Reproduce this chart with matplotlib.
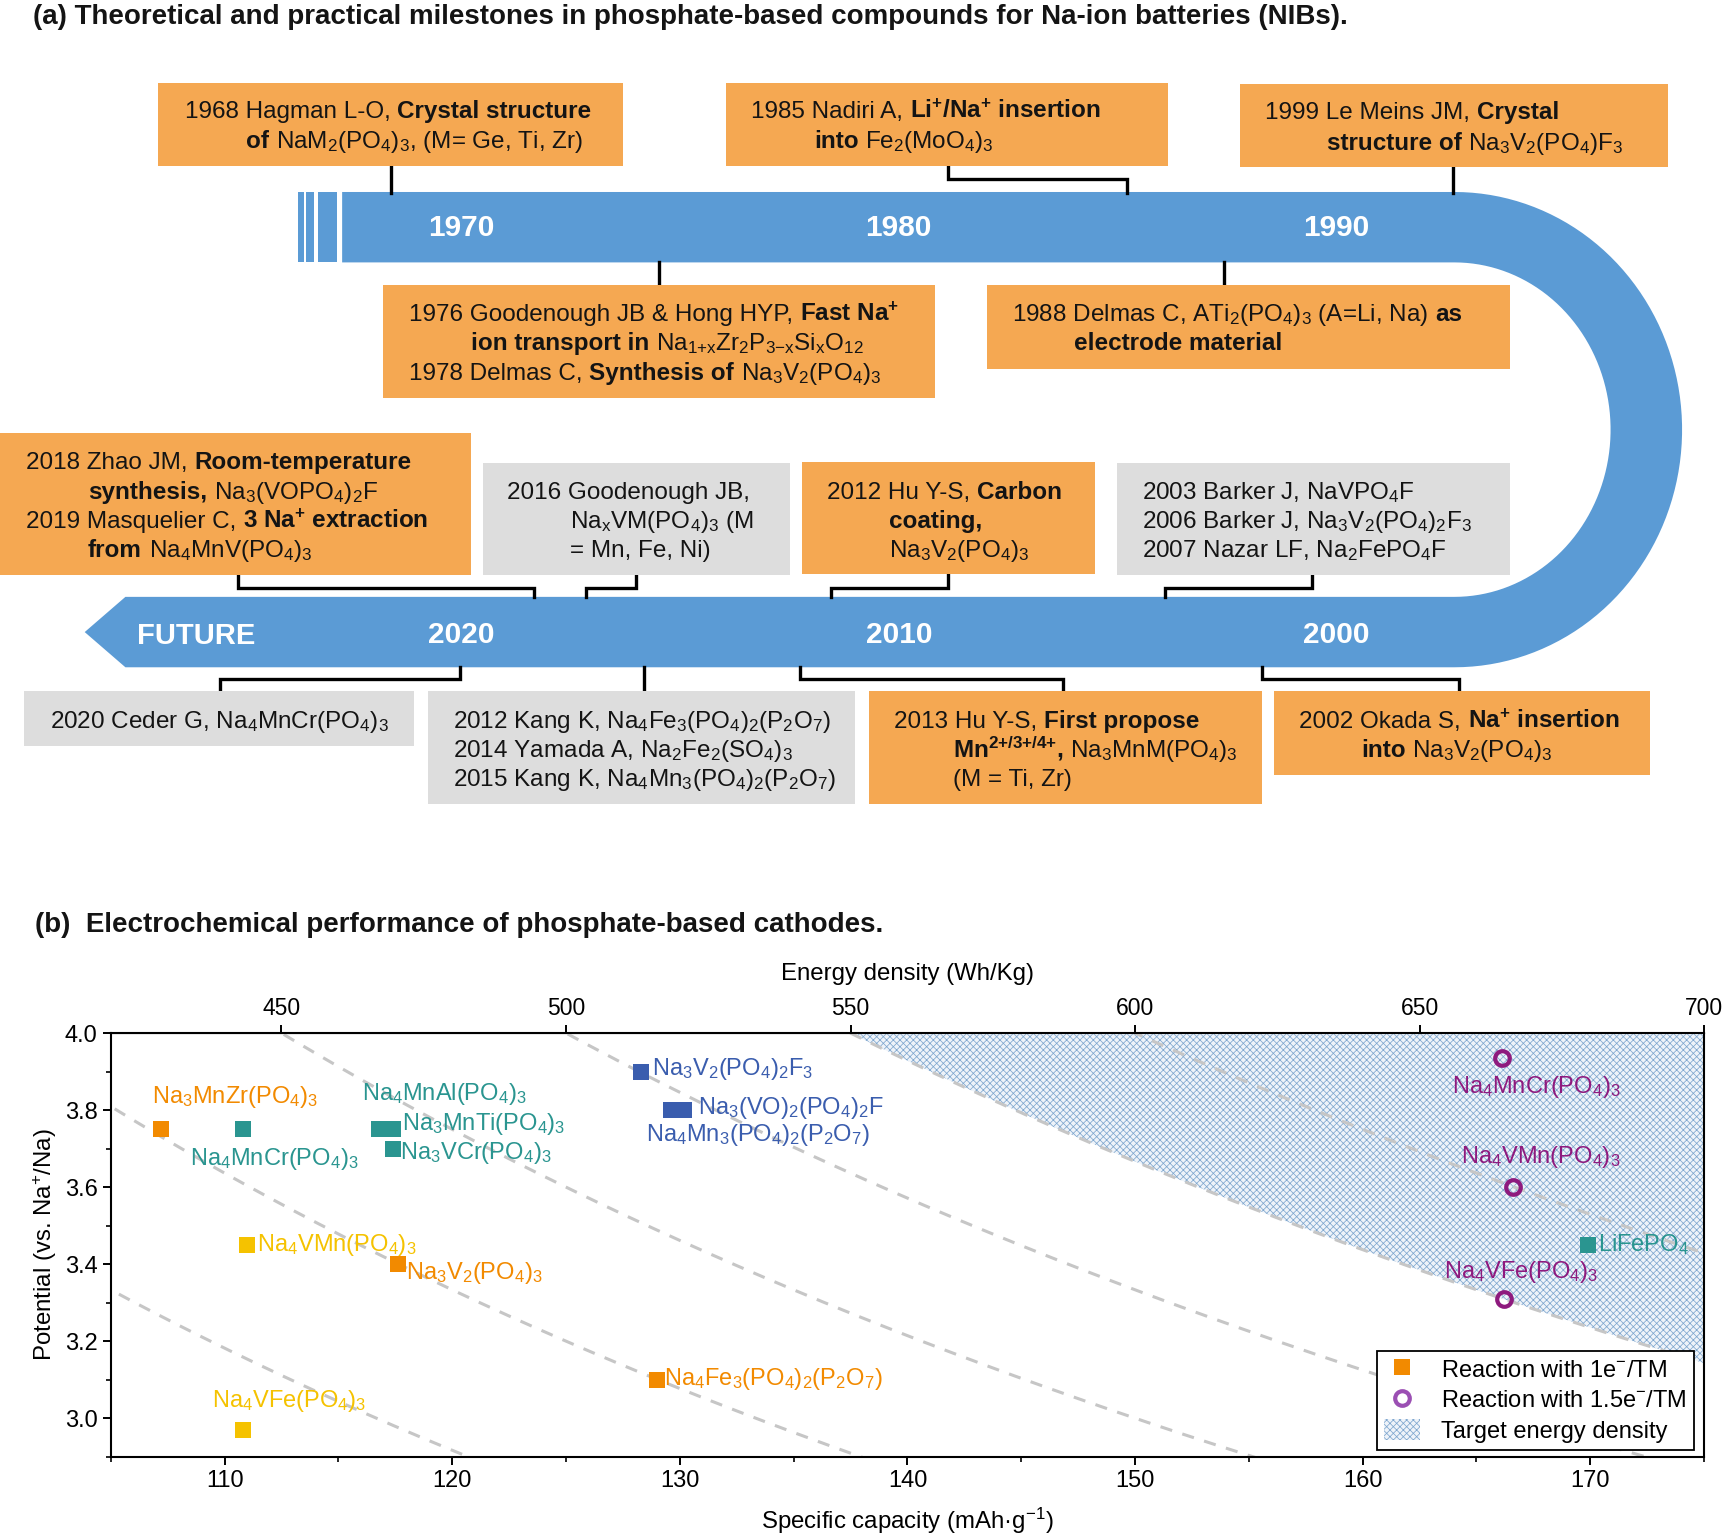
import numpy as np
import matplotlib
matplotlib.use('Agg')
import matplotlib.pyplot as plt
from matplotlib.patches import Rectangle, PathPatch, Patch
from matplotlib.path import Path
from matplotlib.lines import Line2D

plt.rcParams['font.family'] = ['Liberation Sans', 'DejaVu Sans']
plt.rcParams['mathtext.default'] = 'regular'
plt.rcParams['hatch.linewidth'] = 0.55

# ---------------------------------------------------------------- data (a)
title_a = "(a) Theoretical and practical milestones in phosphate-based compounds for Na-ion batteries (NIBs)."
top_years = [1970, 1980, 1990]
bottom_years = [2020, 2010, 2000]
future_label = "FUTURE"

box_kinds = ['orange', 'orange', 'orange', 'orange', 'orange', 'orange', 'gray',
             'orange', 'gray', 'gray', 'gray', 'orange', 'orange']
box_texts = [
    [[("1968 Hagman L-O,", 0), (" Crystal structure", 1)],
     [("of", 1), (" NaM$_2$(PO$_4$)$_3$, (M= Ge, Ti, Zr)", 0)]],
    [[("1985 Nadiri A,", 0), (" Li$^{+}$/Na$^{+}$ insertion", 1)],
     [("into", 1), (" Fe$_2$(MoO$_4$)$_3$", 0)]],
    [[("1999 Le Meins JM,", 0), (" Crystal", 1)],
     [("structure of", 1), (" Na$_3$V$_2$(PO$_4$)F$_3$", 0)]],
    [[("1976 Goodenough JB & Hong HYP,", 0), (" Fast Na$^{+}$", 1)],
     [("ion transport in", 1), (" Na$_{1{+}x}$Zr$_2$P$_{3{-}x}$Si$_x$O$_{12}$", 0)],
     [("1978 Delmas C,", 0), (" Synthesis of", 1), (" Na$_3$V$_2$(PO$_4$)$_3$", 0)]],
    [[("1988 Delmas C, ATi$_2$(PO$_4$)$_3$ (A=Li, Na)", 0), (" as", 1)],
     [("electrode material", 1)]],
    [[("2018 Zhao JM,", 0), (" Room-temperature", 1)],
     [("synthesis,", 1), (" Na$_3$(VOPO$_4$)$_2$F", 0)],
     [("2019 Masquelier C,", 0), (" 3 Na$^{+}$ extraction", 1)],
     [("from", 1), (" Na$_4$MnV(PO$_4$)$_3$", 0)]],
    [[("2016 Goodenough JB,", 0)],
     [("Na$_x$VM(PO$_4$)$_3$ (M", 0)],
     [("= Mn, Fe, Ni)", 0)]],
    [[("2012 Hu Y-S,", 0), (" Carbon", 1)],
     [("coating,", 1)],
     [("Na$_3$V$_2$(PO$_4$)$_3$", 0)]],
    [[("2003 Barker J, NaVPO$_4$F", 0)],
     [("2006 Barker J, Na$_3$V$_2$(PO$_4$)$_2$F$_3$", 0)],
     [("2007 Nazar LF, Na$_2$FePO$_4$F", 0)]],
    [[("2020 Ceder G, Na$_4$MnCr(PO$_4$)$_3$", 0)]],
    [[("2012 Kang K, Na$_4$Fe$_3$(PO$_4$)$_2$(P$_2$O$_7$)", 0)],
     [("2014 Yamada A, Na$_2$Fe$_2$(SO$_4$)$_3$", 0)],
     [("2015 Kang K, Na$_4$Mn$_3$(PO$_4$)$_2$(P$_2$O$_7$)", 0)]],
    [[("2013 Hu Y-S,", 0), (" First propose", 1)],
     [("Mn$^{2{+}/3{+}/4{+}}$,", 1), (" Na$_3$MnM(PO$_4$)$_3$", 0)],
     [("(M = Ti, Zr)", 0)]],
    [[("2002 Okada S,", 0), (" Na$^{+}$ insertion", 1)],
     [("into", 1), (" Na$_3$V$_2$(PO$_4$)$_3$", 0)]],
]

# ---------------------------------------------------------------- data (b)
title_b = "(b)  Electrochemical performance of phosphate-based cathodes."
cathodes = ["Na$_3$MnZr(PO$_4$)$_3$", "Na$_4$MnCr(PO$_4$)$_3$", "Na$_4$MnAl(PO$_4$)$_3$",
            "Na$_3$MnTi(PO$_4$)$_3$", "Na$_3$VCr(PO$_4$)$_3$", "Na$_3$V$_2$(PO$_4$)$_2$F$_3$",
            "Na$_3$(VO)$_2$(PO$_4$)$_2$F", "Na$_4$Mn$_3$(PO$_4$)$_2$(P$_2$O$_7$)",
            "Na$_4$VMn(PO$_4$)$_3$", "Na$_3$V$_2$(PO$_4$)$_3$", "Na$_4$Fe$_3$(PO$_4$)$_2$(P$_2$O$_7$)",
            "Na$_4$VFe(PO$_4$)$_3$", "LiFePO$_4$", "Na$_4$MnCr(PO$_4$)$_3$",
            "Na$_4$VMn(PO$_4$)$_3$", "Na$_4$VFe(PO$_4$)$_3$"]
capacity = [107.2, 110.8, 116.8, 117.4, 117.4, 128.3, 129.6, 130.2,
            111.0, 117.6, 129.0, 110.8, 169.9, 166.1, 166.6, 166.2]
potential = [3.75, 3.75, 3.75, 3.75, 3.70, 3.90, 3.80, 3.80,
             3.45, 3.40, 3.10, 2.97, 3.45, 3.935, 3.60, 3.31]
family = ['orange', 'teal', 'teal', 'teal', 'teal', 'blue', 'blue', 'blue',
          'yellow', 'orange', 'orange', 'yellow', 'teal', 'purple', 'purple', 'purple']
iso_energy = [350, 400, 450, 500, 550, 600]   # Wh/kg guide lines
target_energy = 550
legend_labels = ["Reaction with 1e$^{-}$/TM", "Reaction with 1.5e$^{-}$/TM", "Target energy density"]

# ---------------------------------------------------------------- styles
ORANGE_BOX = '#F5A852'
GRAY_BOX = '#DDDDDD'
BAND = '#5B9BD5'
TXT = '#141414'
HATCH_FACE = '#eef3f9'
HATCH_EDGE = '#7fa7cf'
fam_color = {'orange': '#F28A00', 'teal': '#2A9590', 'blue': '#3A5DAE',
             'yellow': '#F5C200', 'purple': '#8E1A7E'}

# ---------------------------------------------------------------- figure
W, H = 1568.0, 1397.0          # layout units (reference pixel grid)
fig = plt.figure(figsize=(17.25, 15.37), dpi=100)
ax0 = fig.add_axes([0, 0, 1, 1])
ax0.set_xlim(0, W)
ax0.set_ylim(H, 0)
ax0.axis('off')
renderer = fig.canvas.get_renderer()
ppu = fig.bbox.width / W

BOX_FS = 17.5


def twidth(t):
    return t.get_window_extent(renderer).width / ppu


def space_width(size, weight):
    a = ax0.text(0, 0, 'a a', fontsize=size, fontweight=weight)
    b = ax0.text(0, 0, 'aa', fontsize=size, fontweight=weight)
    w = twidth(a) - twidth(b)
    a.remove(); b.remove()
    return w


SW = {0: space_width(BOX_FS, 'normal'), 1: space_width(BOX_FS, 'bold')}


def rich_line(x, y, segs, size=BOX_FS):
    cur = x
    for s, bold in segs:
        if s.startswith(' '):
            cur += SW[bold]
            s = s.lstrip()
        t = ax0.text(cur, y, s, fontsize=size, fontweight='bold' if bold else 'normal',
                     ha='left', va='baseline', color=TXT, zorder=5)
        cur += twidth(t)


# title (a)
ax0.text(30, 22, title_a, fontsize=20, fontweight='bold', ha='left', va='baseline', color=TXT)

# ---- timeline band
y_top0, y_top1 = 174.5, 238.5
y_bot0, y_bot1 = 542.5, 606.5
xc, yc = 1322.0, 390.5
rxo, ryo = 207.0, 216.0
rxi, ryi = 142.0, 152.0
t = np.linspace(0, np.pi, 80)
verts = [(311, y_top0), (xc, y_top0)]
verts += list(zip(xc + rxo * np.sin(t), yc - ryo * np.cos(t)))
verts += [(114, y_bot1), (77, 574.5), (114, y_bot0), (xc, y_bot0)]
verts += list(zip(xc + rxi * np.sin(t), yc + ryi * np.cos(t)))
verts += [(311, y_top1), (311, y_top0)]
codes = [Path.MOVETO] + [Path.LINETO] * (len(verts) - 2) + [Path.CLOSEPOLY]
ax0.add_patch(PathPatch(Path(verts, codes), facecolor=BAND, edgecolor='none', zorder=1))
for x0, w in [(271, 5), (278, 7.5), (289, 17)]:
    ax0.add_patch(Rectangle((x0, y_top0), w, y_top1 - y_top0, facecolor=BAND, edgecolor='none', zorder=1))


def top_x(yr):
    return 419 + (yr - 1970) * 39.8


def bot_x(yr):
    return 1215 - (yr - 2000) * 39.8


for yr in top_years:
    ax0.text(top_x(yr), 207, str(yr), fontsize=21.5, fontweight='bold', color='white',
             ha='center', va='center', zorder=3)
for yr in bottom_years:
    ax0.text(bot_x(yr), 577, str(yr), fontsize=21.5, fontweight='bold', color='white',
             ha='center', va='center', zorder=3)
ax0.text(178, 578, future_label, fontsize=21, fontweight='bold', color='white',
         ha='center', va='center', zorder=3)

# ---- boxes layout: rect, line x, line y centres, connector polyline
box_layout = [
    ((144, 75, 566, 151), [168, 224], [100, 127], [(355, 151), (355, 175)]),
    ((660, 75, 1062, 151), [683, 740], [100, 127], [(862, 151), (862, 163), (1024, 163), (1024, 175)]),
    ((1127, 76, 1516, 152), [1150, 1206], [101, 129], [(1321, 152), (1321, 175)]),
    ((348, 259, 850, 362), [372, 428, 372], [284, 311, 338], [(599, 238), (599, 259)]),
    ((897, 259, 1373, 335), [920, 976], [284, 311], [(1113, 238), (1113, 259)]),
    ((0, 394, 428, 523), [24, 80, 24, 80], [419, 446, 472, 499], [(216, 523), (216, 534), (485, 534), (485, 543)]),
    ((439, 421, 718, 523), [461, 518, 518], [446, 472, 499], [(578, 523), (578, 534), (533, 534), (533, 543)]),
    ((729, 420, 995, 522), [752, 808, 808], [446, 472, 499], [(862, 522), (862, 534), (755, 534), (755, 543)]),
    ((1015, 421, 1373, 523), [1038, 1038, 1038], [446, 472, 499], [(1193, 523), (1193, 534), (1059, 534), (1059, 543)]),
    ((22, 628, 376, 678), [45], [654], [(418, 606), (418, 617), (200, 617), (200, 628)]),
    ((389, 628, 777, 731), [412, 412, 412], [654, 681, 707], [(585, 606), (585, 628)]),
    ((790, 628, 1147, 731), [813, 866, 866], [654, 681, 707], [(727, 606), (727, 617), (966, 617), (966, 628)]),
    ((1158, 628, 1500, 704), [1181, 1237], [654, 681], [(1147, 606), (1147, 617), (1326, 617), (1326, 628)]),
]

for kind, lines, (rect, lx, ly, conn) in zip(box_kinds, box_texts, box_layout):
    x0, y0, x1, y1 = rect
    ax0.add_patch(Rectangle((x0, y0), x1 - x0, y1 - y0,
                            facecolor=ORANGE_BOX if kind == 'orange' else GRAY_BOX,
                            edgecolor='none', zorder=3))
    cx, cy = zip(*conn)
    ax0.plot(cx, cy, color='black', lw=2.4, solid_joinstyle='miter', zorder=2)
    for segs, x, y in zip(lines, lx, ly):
        rich_line(x, y + 7.5, segs)

# ---------------------------------------------------------------- part (b)
ax0.text(32, 847, title_b, fontsize=20, fontweight='bold', ha='left', va='baseline', color=TXT)

L, R, T, B = 100.7, 1549.0, 939.0, 1324.0
axb = fig.add_axes([L / W, 1 - B / H, (R - L) / W, (B - T) / H])
axb.set_xlim(105, 175)
axb.set_ylim(2.9, 4.0)

cgrid = np.linspace(100, 180, 400)
ctar = np.linspace(target_energy / 4.0, 175, 200)
axb.fill_between(ctar, target_energy / ctar, 4.0, facecolor=HATCH_FACE, edgecolor=HATCH_EDGE,
                 hatch='xxxxx', linewidth=0, zorder=0.5)
for e in iso_energy:
    axb.plot(cgrid, e / cgrid, color='#c6c6c6', lw=2.2, dashes=(4, 3.5), zorder=1)

for i, (c, v, f) in enumerate(zip(capacity, potential, family)):
    if f == 'purple':
        axb.plot(c, v, 'o', ms=10.5, mfc='none', mec=fam_color[f], mew=3.0, zorder=4)
    else:
        axb.plot(c, v, 's', ms=12, color=fam_color[f], mew=0, zorder=4)

# label offsets (reference px: dx to label left, dy to label centre, y down)
label_off = [(-8, -29), (-48, 27), (-16, -32), (8, -5), (6, 4), (10, -2), (25, -2), (-35, 23),
             (9, 0), (8, 8), (6, -1), (-28, -26), (9, 0), (-45, 26), (-47, -27), (-54, -24)]
k = 1.1 * 0.72
for name, c, v, f, (dx, dy) in zip(cathodes, capacity, potential, family, label_off):
    axb.annotate(name, (c, v), xytext=(dx * k, -dy * k), textcoords='offset points',
                 ha='left', va='center', fontsize=17, color=fam_color[f], zorder=5)

axb.set_yticks([3.0, 3.2, 3.4, 3.6, 3.8, 4.0])
axb.set_yticks(np.arange(2.9, 4.01, 0.1), minor=True)
axb.set_xticks(np.arange(110, 171, 10))
axb.set_xticks(np.arange(105, 176, 5), minor=True)
axb.tick_params(which='major', direction='out', length=6, width=1.4, labelsize=17)
axb.tick_params(which='minor', direction='out', length=3.5, width=1.2)
axb.tick_params(axis='y', which='both', right=False)
for sp in axb.spines.values():
    sp.set_linewidth(1.5)
axb.set_xlabel("Specific capacity (mAh·g$^{-1}$)", fontsize=17.3, labelpad=10)
axb.set_ylabel("Potential (vs. Na$^{+}$/Na)", fontsize=17.3, labelpad=4)

sec = axb.secondary_xaxis('top', functions=(lambda c: c * 4.0, lambda e: e / 4.0))
sec.set_xticks([450, 500, 550, 600, 650, 700])
sec.tick_params(direction='out', length=6, width=1.4, labelsize=16.5)
sec.set_xlabel("Energy density (Wh/Kg)", fontsize=17.3, labelpad=12)

handles = [Line2D([], [], marker='s', ls='none', ms=12, color=fam_color['orange'], mew=0),
           Line2D([], [], marker='o', ls='none', ms=10.5, mfc='none', mec='#9B4FB3', mew=3.0),
           Patch(facecolor=HATCH_FACE, edgecolor=HATCH_EDGE, hatch='xxxxx', linewidth=0)]
leg = axb.legend(handles, legend_labels, loc='lower right', bbox_to_anchor=(0.9935, 0.0156),
                 borderaxespad=0, fontsize=17, frameon=True, fancybox=False, framealpha=1,
                 edgecolor='black', handlelength=1.5, handleheight=1.0, handletextpad=0.9,
                 labelspacing=0.3, borderpad=0.3)
leg.get_frame().set_linewidth(1.3)

fig.savefig('out.png', dpi=100)
